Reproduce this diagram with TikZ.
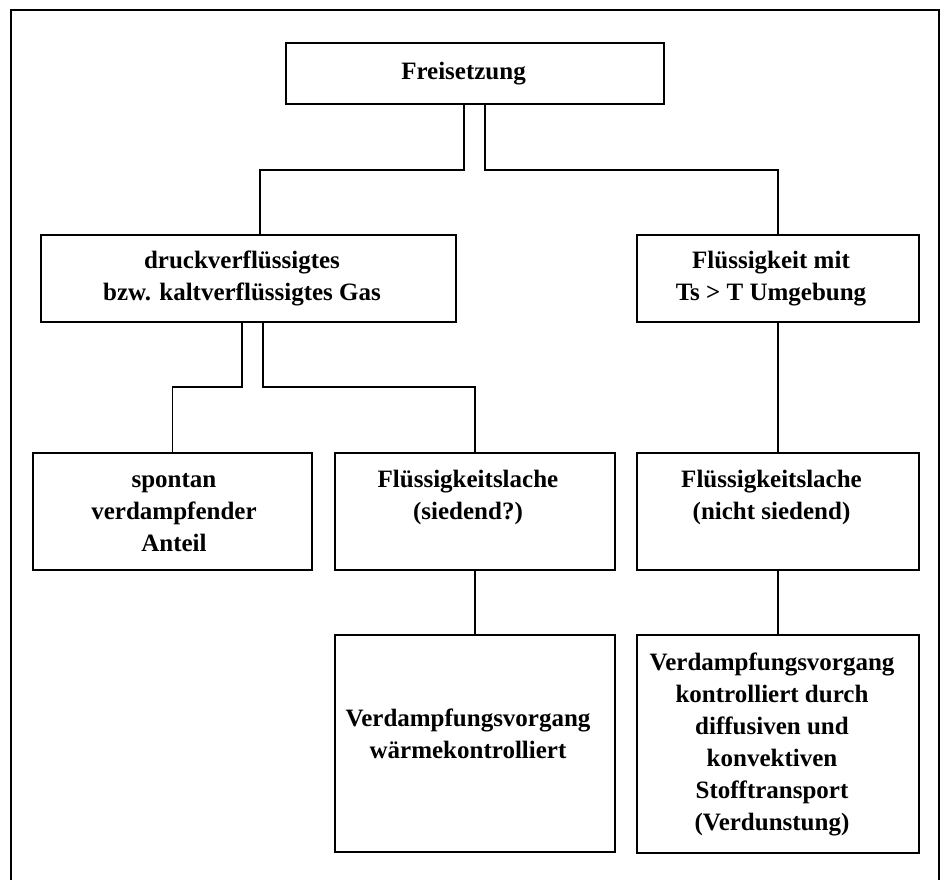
\documentclass[tikz,border=0pt]{standalone}
\usepackage{fontspec}
\setmainfont{Liberation Serif}
\begin{document}
\begin{tikzpicture}[x=1pt,y=-1pt,
  box/.style={draw, line width=2.4pt, inner sep=0pt},
  txt/.style={font=\fontsize{25}{32}\selectfont\bfseries, align=center, inner sep=0pt},
  conn/.style={line width=1.6pt},
  frame/.style={line width=2pt}]
\useasboundingbox (0,0) rectangle (941,880);
\draw[frame] (11,880) -- (11,10) -- (939,10) -- (939,880);
% boxes
\node[box, minimum width=378pt, minimum height=61pt] (F) at (475,73.5) {};
\node[box, minimum width=415pt, minimum height=87pt] (A) at (248.5,278.5) {};
\node[box, minimum width=282pt, minimum height=87pt] (B) at (778,278.5) {};
\node[box, minimum width=279pt, minimum height=117pt] (C) at (172.5,511.5) {};
\node[box, minimum width=280pt, minimum height=117pt] (D) at (475,511.5) {};
\node[box, minimum width=282pt, minimum height=117pt] (E) at (778,511.5) {};
\node[box, minimum width=280pt, minimum height=217pt] (G) at (475,743.5) {};
\node[box, minimum width=282pt, minimum height=218pt] (H) at (778,744) {};
% texts
\node[txt] (Ft) at (463.5,73.5) {Freisetzung\strut};
\node[txt] (At) at (242,278.5) {druckverflüssigtes\strut\\bzw. kaltverflüssigtes Gas\strut};
\node[txt] (Bt) at (771,278.5) {Flüssigkeit mit\strut\\Ts > T Umgebung\strut};
\node[txt, anchor=north] (Ct) at (174,464.6) {spontan\strut\\verdampfender\strut\\Anteil\strut};
\node[txt, anchor=north] (Dt) at (468,464.6) {Flüssigkeitslache\strut\\(siedend?)\strut};
\node[txt, anchor=north] (Et) at (771.5,464.6) {Flüssigkeitslache\strut\\(nicht siedend)\strut};
\node[txt] (Gt) at (468,736) {Verdampfungsvorgang\strut\\wärmekontrolliert\strut};
\node[txt] (Ht) at (772,744) {Verdampfungsvorgang\strut\\kontrolliert durch\strut\\diffusiven und\strut\\konvektiven\strut\\Stofftransport\strut\\(Verdunstung)\strut};
% connector helper coordinates
\coordinate (j1) at (0,170);
\coordinate (j2) at (0,387);
\coordinate (fL) at (464,0);
\coordinate (fR) at (485,0);
\coordinate (aT) at (260,0);
\coordinate (aL) at (242,0);
\coordinate (aR) at (263,0);
% connectors
\draw[conn] (F.south -| fL) -- (fL |- j1) -| (A.north -| aT);
\draw[conn] (F.south -| fR) -- (fR |- j1) -| (B.north);
\draw[conn] (A.south -| aL) -- (aL |- j2) -| (C.north);
\draw[conn] (A.south -| aR) -- (aR |- j2) -| (D.north);
\draw[conn] (B.south) -- (E.north);
\draw[conn] (D.south) -- (G.north);
\draw[conn] (E.south) -- (H.north);
\end{tikzpicture}
\end{document}
